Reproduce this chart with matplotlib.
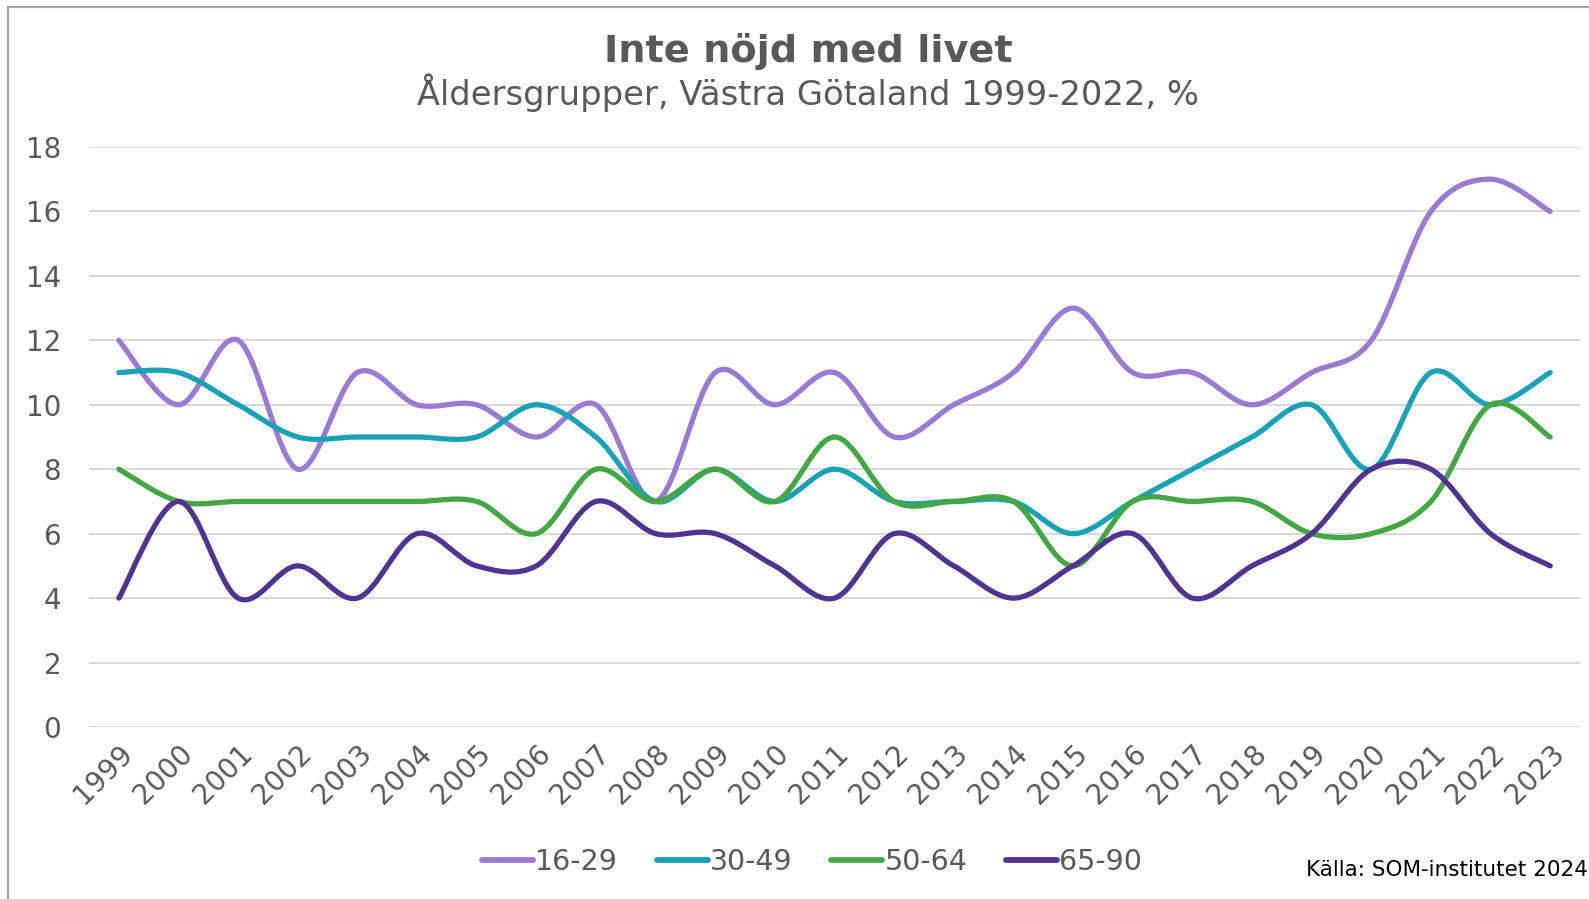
import numpy as np
import matplotlib
matplotlib.use('Agg')
import matplotlib.pyplot as plt
from matplotlib.path import Path
from matplotlib.patches import PathPatch, Rectangle
from matplotlib.lines import Line2D

plt.rcParams['font.family'] = ['DejaVu Sans']

years = [str(y) for y in range(1999, 2024)]
labels = ['16-29', '30-49', '50-64', '65-90']
colors = ['#9B7BD1', '#1BA1B5', '#45A645', '#503490']

v1629 = [12, 10, 12, 8, 11, 10, 10, 9, 10, 7, 11, 10, 11, 9, 10, 11, 13, 11, 11, 10, 11, 12, 16, 17, 16]
v3049 = [11, 11, 10, 9, 9, 9, 9, 10, 9, 7, 8, 7, 8, 7, 7, 7, 6, 7, 8, 9, 10, 8, 11, 10, 11]
v5064 = [8, 7, 7, 7, 7, 7, 7, 6, 8, 7, 8, 7, 9, 7, 7, 7, 5, 7, 7, 7, 6, 6, 7, 10, 9]
v6590 = [4, 7, 4, 5, 4, 6, 5, 5, 7, 6, 6, 5, 4, 6, 5, 4, 5, 6, 4, 5, 6, 8, 8, 6, 5]

series = [v1629, v3049, v5064, v6590]
grey = '#595959'


def smooth_path(x, y):
    # excel-style smoothed line: catmull-rom segments as cubic beziers
    p = np.column_stack([x, y]).astype(float)
    n = len(p)
    verts = [p[0]]
    codes = [Path.MOVETO]
    for i in range(n - 1):
        p0 = p[i - 1] if i > 0 else p[i]
        p3 = p[i + 2] if i + 2 < n else p[i + 1]
        c1 = p[i] + (p[i + 1] - p0) / 6
        c2 = p[i + 1] - (p3 - p[i]) / 6
        verts += [c1, c2, p[i + 1]]
        codes += [Path.CURVE4] * 3
    return Path(verts, codes)


fig = plt.figure(figsize=(15.89, 8.99), dpi=100)
ax = fig.add_axes([89 / 1589, 1 - 727 / 899, (1580 - 89) / 1589, (727 - 147) / 899])

x = np.arange(len(years))
for vals, c in zip(series, colors):
    patch = PathPatch(smooth_path(x, vals), facecolor='none', edgecolor=c,
                      lw=3.8, capstyle='round', joinstyle='round', zorder=3)
    ax.add_patch(patch)

ax.set_xlim(-0.5, len(years) - 0.5)
ax.set_ylim(0, 18)
ax.set_yticks(range(0, 19, 2))
ax.set_xticks(x)
ax.set_xticklabels(years, rotation=45, ha='right', va='top', rotation_mode='anchor')
ax.tick_params(axis='both', length=0, labelsize=20, colors=grey)
ax.tick_params(axis='y', pad=20)
ax.tick_params(axis='x', pad=9)
ax.grid(axis='y', color='#D9D9D9', lw=1.5)
ax.set_axisbelow(True)
for s in ax.spines.values():
    s.set_visible(False)

fig.text(808 / 1589, 1 - 51 / 899, 'Inte nöjd med livet', ha='center', va='center',
         fontsize=27.5, fontweight='bold', color=grey)
fig.text(808 / 1589, 1 - 93 / 899, 'Åldersgrupper, Västra Götaland 1999-2022, %', ha='center',
         va='center', fontsize=24.3, color=grey)

handles = [Line2D([], [], color=c, lw=4.2, solid_capstyle='round') for c in colors]
fig.legend(handles, labels, loc='center', bbox_to_anchor=(812 / 1589, 1 - 862 / 899), ncol=4,
           frameon=False, fontsize=20.5, labelcolor=grey, handlelength=1.8,
           handletextpad=0.08, columnspacing=1.35)

fig.text(1588 / 1589, 1 - 870 / 899, 'Källa: SOM-institutet 2024', ha='right', va='center',
         fontsize=15.5, color='black')

# chart border (right and bottom edges fall outside the image)
fig.patches.append(Rectangle((8 / 1589, -0.1), 1.2, 1 - 7 / 899 + 0.1, transform=fig.transFigure,
                             facecolor='none', edgecolor='#A6A6A6', lw=1.5))

fig.savefig('out.png', dpi=100)
